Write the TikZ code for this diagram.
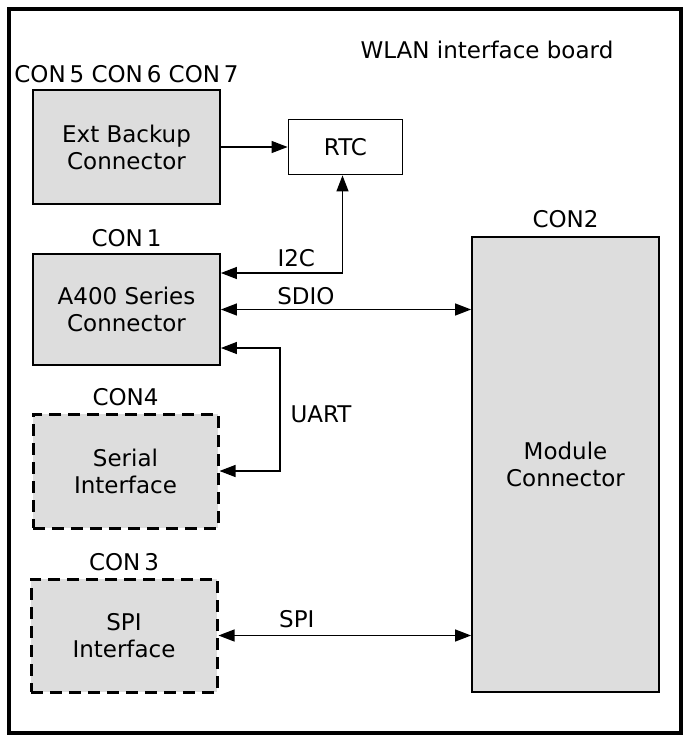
\documentclass[tikz,border=0pt]{standalone}
\usepackage{fontspec}
\setmainfont{DejaVu Sans}
\usetikzlibrary{arrows.meta}
\definecolor{boxgray}{HTML}{DDDDDD}

\begin{document}
\begin{tikzpicture}[x=1pt, y=-1pt,
    font=\fontsize{23}{27}\selectfont,
    conbox/.style={draw, line width=1.8pt, fill=boxgray, align=center,
      inner sep=0pt},
    optbox/.style={conbox, line width=3pt, dash pattern=on 12pt off 7pt},
    tip/.style={line width=1.2pt, -{Triangle[length=16pt, width=12pt]}},
    bitip/.style={line width=1.2pt, {Triangle[length=16pt, width=12pt]}-{Triangle[length=16pt, width=12pt]}}]
  \useasboundingbox (0,0) rectangle (687,736);
  \draw[line width=3.5pt] (9,9) rectangle (681,733);

  \node at (487,50) {WLAN interface board};

  \node[conbox, minimum width=187pt, minimum height=114pt] (backup) at (126.5,147) {Ext Backup\\Connector};
  \node[draw, line width=1.8pt, fill=white, minimum width=114pt, minimum height=55pt] (rtc) at (345.5,147) {RTC};
  \node[conbox, minimum width=187pt, minimum height=111pt] (a400) at (126.5,309.5) {A400 Series\\Connector};
  \node[optbox, minimum width=185pt, minimum height=114pt] (serial) at (125.5,471) {Serial\\Interface};
  \node[optbox, minimum width=186pt, minimum height=113pt] (spi) at (124,635.5) {SPI\\Interface};
  \node[conbox, minimum width=187pt, minimum height=455pt] (module) at (565.5,464.5) {Module\\Connector};

  \node[above=3pt] at (backup.north) {CON\,5 CON\,6 CON\,7};
  \node[above=3pt] at (a400.north) {CON\,1};
  \node[above=3pt] at (serial.north) {CON4};
  \node[above=3pt] at (spi.north) {CON\,3};
  \node[above=5pt] at (module.north) {CON2};

  \draw[tip] (backup.east) -- (rtc.west);
  \draw[bitip] ([xshift=-3pt]rtc.south) |- ([yshift=36.5pt]a400.east) node[pos=0.69, above=2pt] {I2C};
  \draw[bitip] (a400.east) -- (a400.east -| module.west) node[pos=0.34, above=1pt] {SDIO};
  \draw[bitip] ([yshift=-38.5pt]a400.east) -- ++(59,0) |- (serial.east);
  \node at (321,414) {UART};
  \draw[bitip] (spi.east) -- (spi.east -| module.west) node[pos=0.31, above=4pt] {SPI};
\end{tikzpicture}
\end{document}
